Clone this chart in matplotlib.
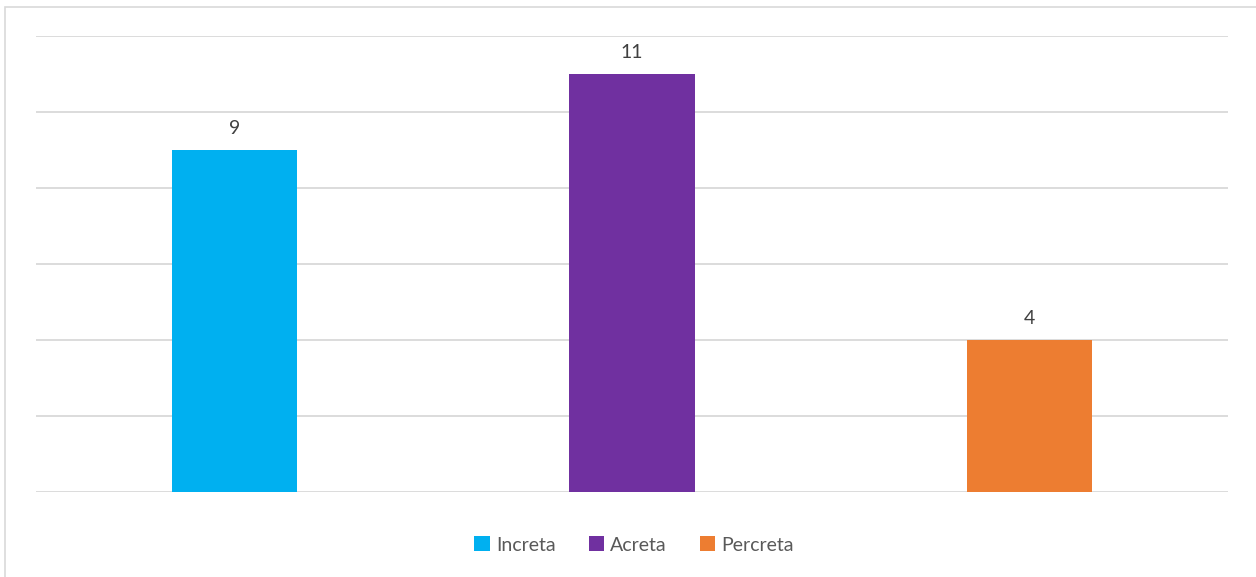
import matplotlib.pyplot as plt
from matplotlib.patches import Rectangle

# tipos de acretismo placentario e numero de casos
tipos = ["Increta", "Acreta", "Percreta"]
casos = [9, 11, 4]
cores = ["#00B0F0", "#7030A0", "#ED7D31"]

plt.rcParams["font.family"] = ["Lato", "DejaVu Sans"]

fig = plt.figure(figsize=(12.56, 5.77), dpi=100)
ax = fig.add_axes([36 / 1256, 1 - 492 / 577, (1228 - 36) / 1256, (492 - 36) / 577])

x = range(len(tipos))
barras = ax.bar(x, casos, width=0.315, color=cores, zorder=3)

for xi, v in zip(x, casos):
    ax.text(xi, v + 0.35, str(v), ha="center", va="bottom", fontsize=14, color="#404040")

ax.set_xlim(-0.5, 2.5)
ax.set_ylim(0, 12)
ax.set_yticks(range(0, 13, 2))
ax.yaxis.grid(True, color="#D9D9D9", linewidth=1.3, zorder=0)
ax.tick_params(left=False, bottom=False, labelleft=False, labelbottom=False)
for s in ax.spines.values():
    s.set_visible(False)

# legenda abaixo do grafico
fig.legend(barras, tipos, loc="center", bbox_to_anchor=(634 / 1256, 1 - 545 / 577),
           ncol=3, frameon=False, fontsize=14, labelcolor="#595959",
           handlelength=0.8, handleheight=0.8, handletextpad=0.3, columnspacing=1.7)

# moldura do grafico
fig.patches.append(Rectangle((5 / 1256, -0.1), 1.2, 1 - 7 / 577 + 0.1,
                             transform=fig.transFigure, fill=False,
                             edgecolor="#D9D9D9", linewidth=1.2))

fig.savefig("out.png", dpi=100)
